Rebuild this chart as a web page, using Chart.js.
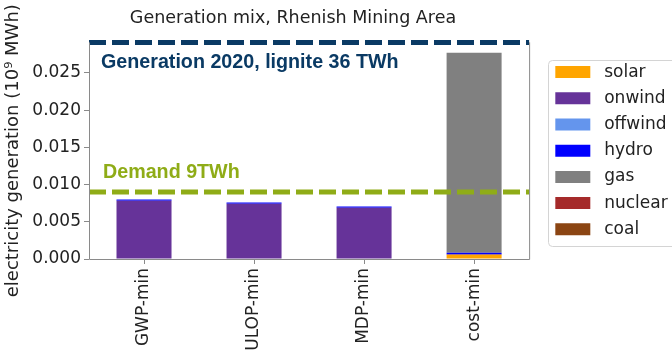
<!DOCTYPE html>
<html lang="en">
<head>
  <meta charset="UTF-8" />
  <title>Generation mix, Rhenish Mining Area</title>
  <script src="https://cdn.jsdelivr.net/npm/chart.js"></script>
  <style>
    html, body { margin: 0; padding: 0; background: #fff; }
    .wrap { width: 672px; height: 352px; overflow: hidden; }
  </style>
</head>
<body>
  <div class="wrap"><canvas id="mix"></canvas></div>

  <script>
    const scenarios = ['GWP-min', 'ULOP-min', 'MDP-min', 'cost-min'];

    // generation per carrier, in 10^9 MWh
    const solar   = [0, 0, 0, 0.00058];
    const onwind  = [0.00782, 0.00743, 0.0069, 0.0001];
    const offwind = [0, 0, 0, 0];
    const hydro   = [0.00017, 0.00017, 0.00017, 0.00017];
    const gas     = [0, 0, 0, 0.02685];
    const nuclear = [0, 0, 0, 0];
    const coal    = [0, 0, 0, 0];

    const demand = 0.009;          // 9 TWh
    const yMax = 0.0291;
    const generation2020 = yMax;   // sits on the top edge of the axes
    const yStep = 0.005;

    const font = { family: 'DejaVu Sans', size: 17 };
    const ink = '#222';
    const spine = '#8a8a8a';
    const navy = '#0a3a64';
    const olive = '#8fac17';

    const carriers = [
      ['solar', solar, '#ffa500'],
      ['onwind', onwind, '#663399'],
      ['offwind', offwind, '#6495ed'],
      ['hydro', hydro, '#0000ff'],
      ['gas', gas, '#808080'],
      ['nuclear', nuclear, '#a52a2a'],
      ['coal', coal, '#8b4513']
    ];

    const datasets = carriers.map(([label, data, color]) => ({
      label, data,
      backgroundColor: color,
      borderWidth: 0,
      grouped: false
    }));

    // reference lines run across the whole axes on hidden, unstacked scales
    const hline = (label, value, color) => ({
      type: 'line', label,
      data: [{ x: -0.5, y: value }, { x: 3.5, y: value }],
      xAxisID: 'xl', yAxisID: 'yl',
      borderColor: color, borderWidth: 5, borderDash: [17, 6],
      pointRadius: 0, clip: false, order: -1
    });
    datasets.push(hline('Demand', demand, olive));
    datasets.push(hline('Generation 2020', generation2020, navy));

    const frame = {
      id: 'frame',
      afterDraw(chart) {
        const { ctx, chartArea: a } = chart;
        ctx.save();
        ctx.strokeStyle = spine;
        ctx.lineWidth = 1;
        ctx.beginPath();
        ctx.moveTo(a.left + 0.5, a.top);
        ctx.lineTo(a.left + 0.5, a.bottom + 0.5);
        ctx.lineTo(a.right + 0.5, a.bottom + 0.5);
        ctx.lineTo(a.right + 0.5, a.top);
        ctx.stroke();
        // legend box
        ctx.strokeStyle = '#d4d4d4';
        ctx.beginPath();
        ctx.roundRect(548.5, 60.5, 140, 186, 4);
        ctx.stroke();
        ctx.restore();
      }
    };

    const notes = {
      id: 'notes',
      afterDraw(chart) {
        const { ctx, chartArea: a, scales: { y } } = chart;
        ctx.save();
        ctx.fillStyle = ink;
        ctx.font = '17.5px "DejaVu Sans"';
        ctx.textAlign = 'center';
        ctx.textBaseline = 'middle';
        ctx.fillText('Generation mix, Rhenish Mining Area', 293, 18.5);

        ctx.textAlign = 'left';
        ctx.textBaseline = 'alphabetic';
        ctx.font = 'bold 19.7px "Liberation Sans", Arial, sans-serif';
        ctx.fillStyle = navy;
        ctx.fillText('Generation 2020, lignite 36 TWh', a.left + 12, a.top + 26);
        ctx.fillStyle = olive;
        ctx.fillText('Demand 9TWh', a.left + 14, y.getPixelForValue(demand) - 14);
        ctx.restore();
      }
    };

    new Chart(document.getElementById('mix'), {
      type: 'bar',
      data: { labels: scenarios, datasets },
      plugins: [frame, notes],
      options: {
        responsive: true,
        maintainAspectRatio: false,
        animation: false,
        // the legend frame runs off the right edge of the figure
        layout: { padding: { top: 42.4, right: -5.7 } },
        datasets: { bar: { categoryPercentage: 1, barPercentage: 0.5 } },
        plugins: {
          tooltip: { enabled: false },
          title: { display: false },
          legend: {
            position: 'right',
            fullSize: false,
            align: 'center',
            labels: {
              boxWidth: 35,
              boxHeight: 12,
              padding: 9.2,
              color: ink,
              font,
              filter: item => item.datasetIndex < carriers.length,
              generateLabels: chart =>
                Chart.defaults.plugins.legend.labels.generateLabels(chart)
                  .map(l => ({ ...l, text: ' ' + l.text }))
            }
          }
        },
        scales: {
          x: {
            stacked: true,
            offset: true,
            grid: { drawOnChartArea: false, offset: false, tickLength: 5, color: spine },
            border: { display: false },
            ticks: { minRotation: 90, maxRotation: 90, padding: 4, color: ink, font },
            afterFit: s => { s.height = 93; }
          },
          xl: { type: 'linear', display: false, offset: false, min: -0.5, max: 3.5 },
          y: {
            stacked: true,
            min: 0,
            max: yMax,
            grid: { drawOnChartArea: false, tickLength: 5, color: spine },
            border: { display: false },
            ticks: {
              stepSize: yStep,
              includeBounds: false,
              padding: 3,
              color: ink,
              font,
              callback: v => v.toFixed(3)
            },
            title: {
              display: true,
              text: 'electricity generation (10\u2079 MWh)',
              color: ink,
              font: { ...font, size: 18 },
              padding: { top: 3, bottom: 0 }
            },
            afterFit: s => { s.width = 89; }
          },
          yl: { type: 'linear', display: false, min: 0, max: yMax },
          // hidden strip that keeps a gap between the axes and the legend
          yPad: {
            type: 'linear',
            position: 'right',
            display: false,
            afterFit: s => { s.width = 17; }
          }
        }
      }
    });
  </script>
</body>
</html>
